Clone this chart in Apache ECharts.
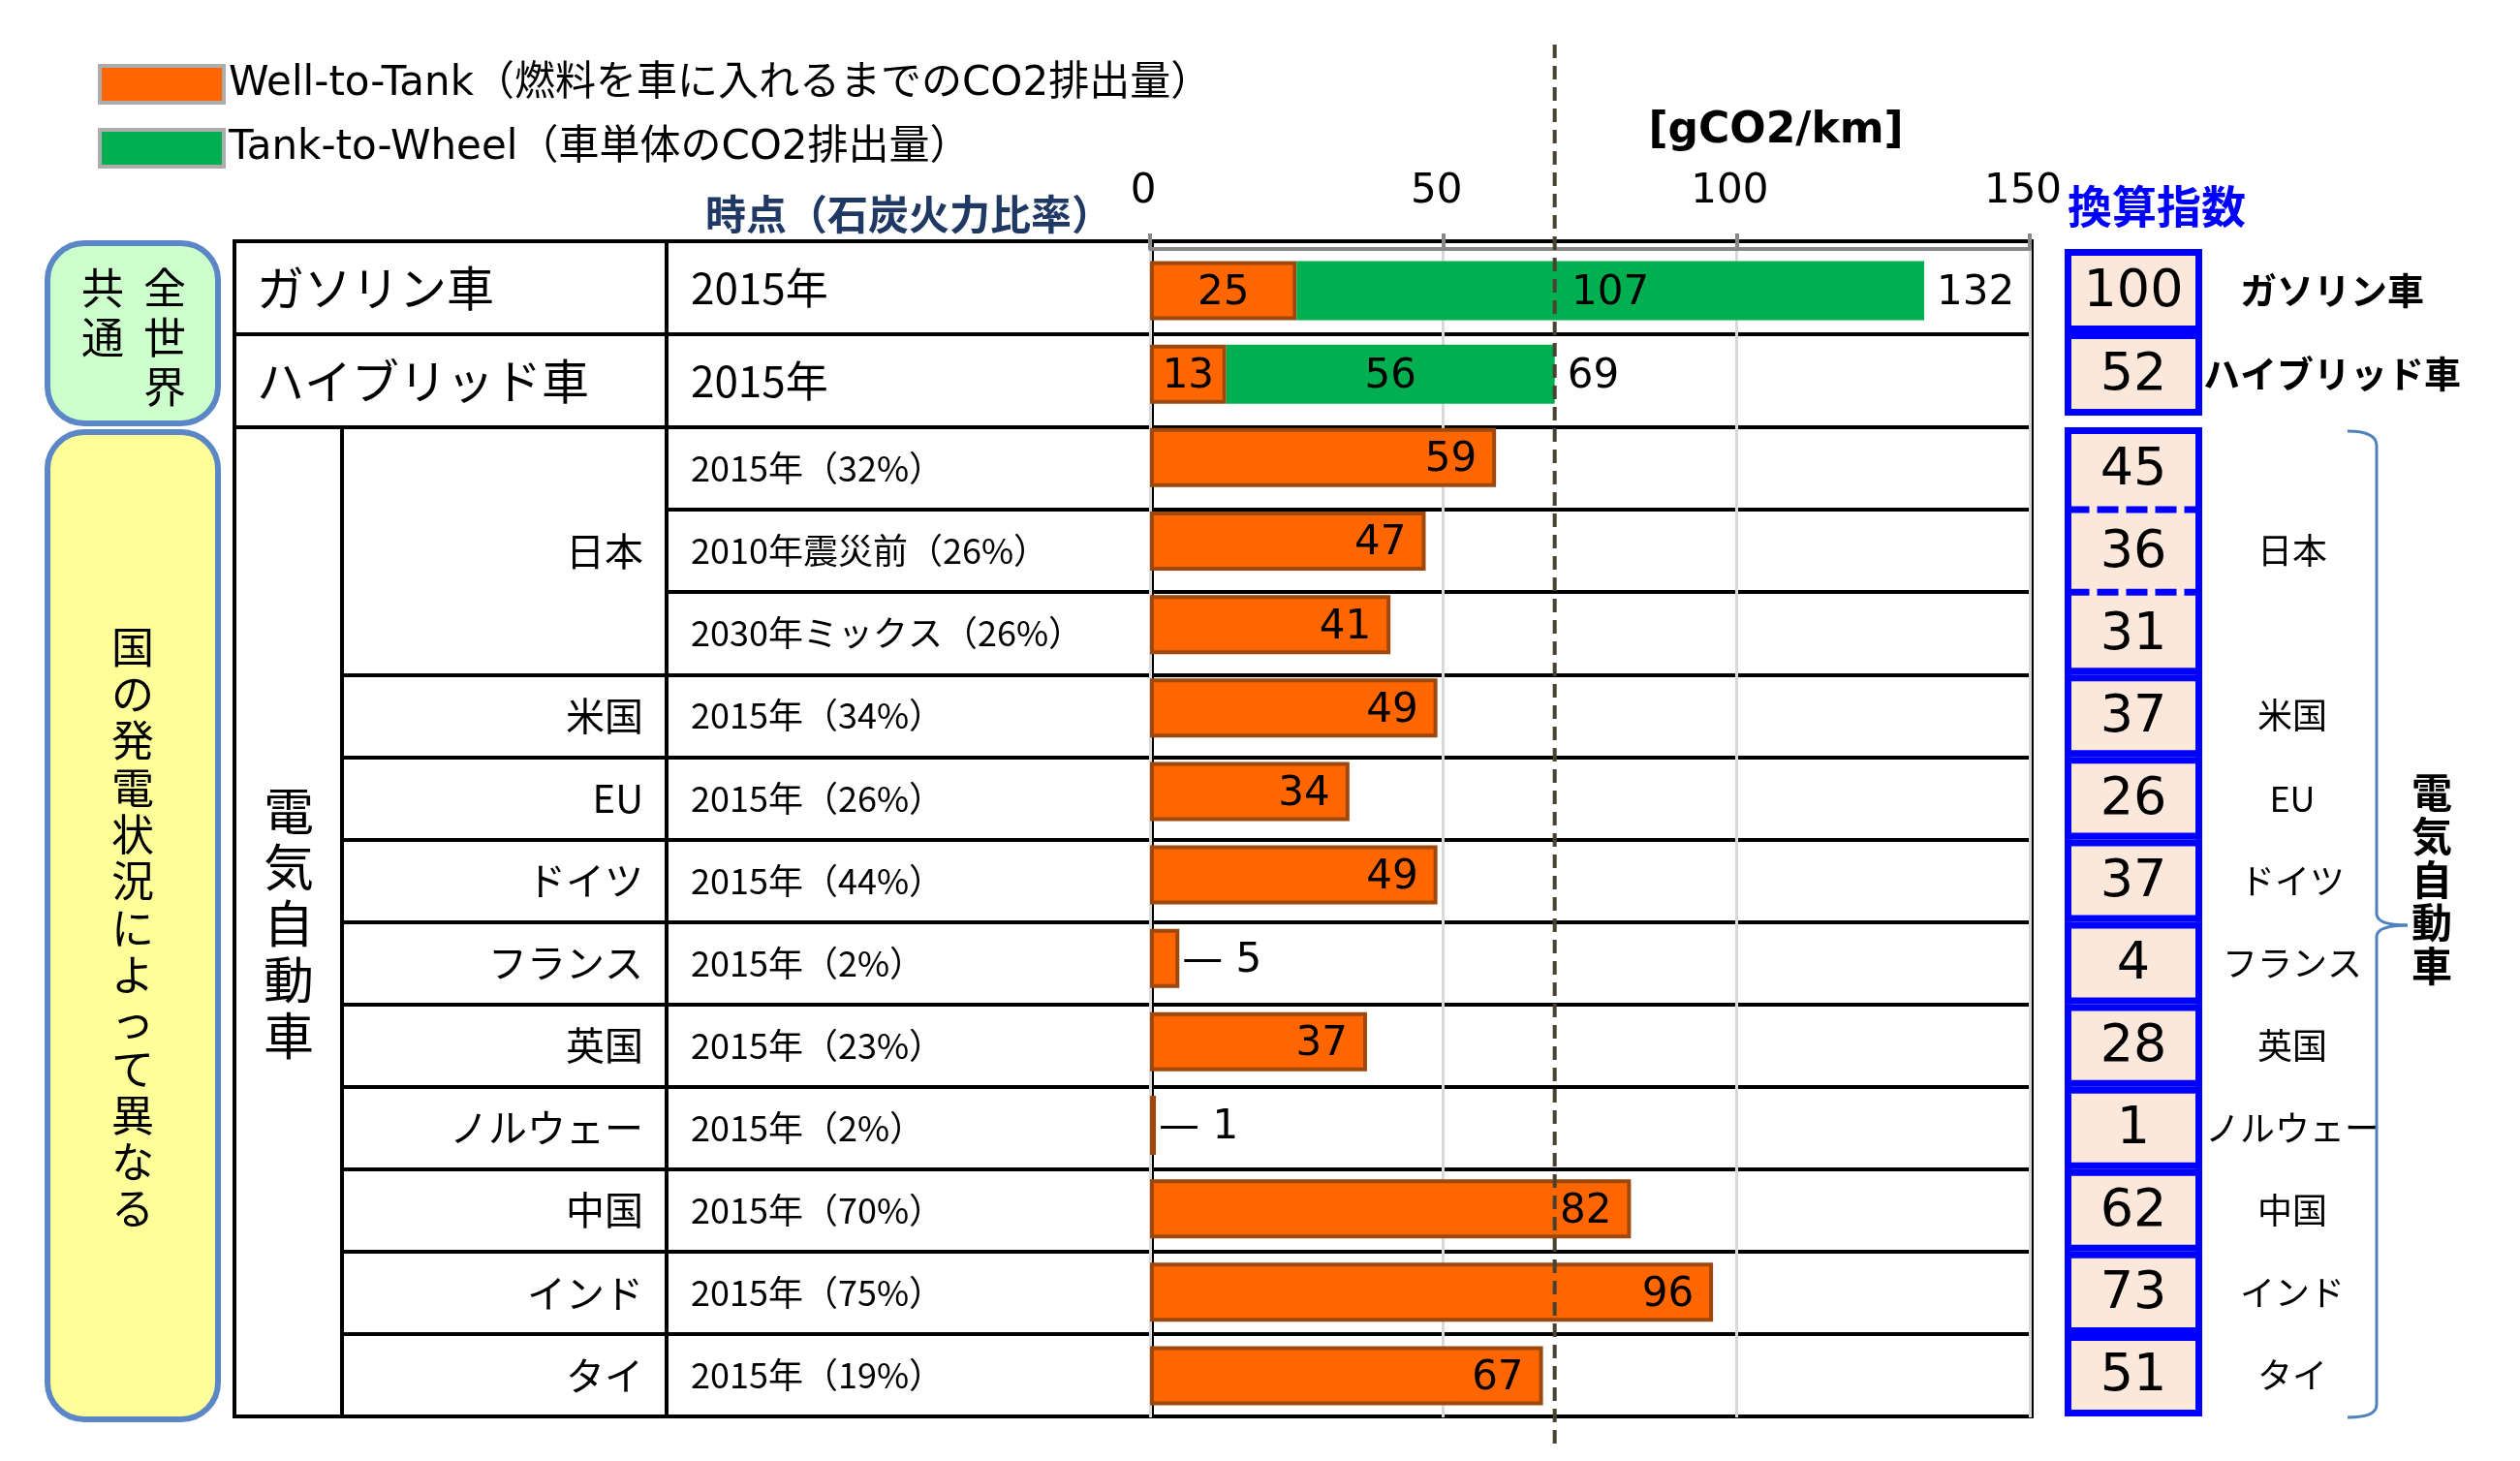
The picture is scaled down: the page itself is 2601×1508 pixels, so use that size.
<!DOCTYPE html>
<html><head><meta charset="utf-8">
<script src="https://cdn.jsdelivr.net/npm/echarts@6/dist/echarts.min.js"></script>
<style>html,body{margin:0;padding:0;background:#fff}#c{width:2601px;height:1508px}</style>
</head><body><div id="c"></div>
<script>
// ---------------- data ----------------
const legendNames = ['Well-to-Tank（燃料を車に入れるまでのCO2排出量）', 'Tank-to-Wheel（車単体のCO2排出量）'];
const vehicleTypes = ['ガソリン車', 'ハイブリッド車'];
const vehicleYears = ['2015年', '2015年'];
const evCountryRows = ['日本', '日本', '日本', '米国', 'EU', 'ドイツ', 'フランス', '英国', 'ノルウェー', '中国', 'インド', 'タイ'];
const evYears = ['2015年（32%）', '2010年震災前（26%）', '2030年ミックス（26%）', '2015年（34%）', '2015年（26%）', '2015年（44%）',
                 '2015年（2%）', '2015年（23%）', '2015年（2%）', '2015年（70%）', '2015年（75%）', '2015年（19%）'];
const wellToTank = [25, 13, 59, 47, 41, 49, 34, 49, 5, 37, 1, 82, 96, 67];
const tankToWheel = [107, 56];
const indexTop = [100, 52];
const indexEV = [45, 36, 31, 37, 26, 37, 4, 28, 1, 62, 73, 51];
const xMin = 0, xMax = 150, xStep = 50;
const unitLabel = '[gCO2/km]';
const yearHeader = '時点（石炭火力比率）';
const indexHeader = '換算指数';
const worldCols = ['全世界', '共通'];
const countryNote = '国の発電状況によって異なる';
const evLabel = '電気自動車';

// ---------------- helpers ----------------
const FONT = "'DejaVu Sans', 'Noto Sans CJK JP', sans-serif";
const JFONT = "'Noto Sans CJK JP', sans-serif";
const topKeys = vehicleTypes.slice();
const evKeys = evCountryRows.map((c, i) => c + '｜' + evYears[i]);
const allKeys = topKeys.concat(evKeys);

function middleLabels(rows) {
  return rows.map((r, i) => {
    let s = i; while (s > 0 && rows[s - 1] === r) s--;
    let e = i; while (e < rows.length - 1 && rows[e + 1] === r) e++;
    return i === Math.floor((s + e) / 2) ? r : '';
  });
}
const evCountryLabels = middleLabels(evCountryRows);

const BORDER = {show: true, borderColor: '#000', borderWidth: 4, backgroundColor: 'rgba(0,0,0,0)'};
function g(left, top, width, height, extra) {
  return Object.assign({left, top, width, height, containLabel: false}, extra || {});
}
const grids = [
  g(242, 249, 446, 192, BORDER),   // 0 top: vehicle name
  g(688, 249, 501, 192, BORDER),   // 1 top: year
  g(1189, 249, 908, 192, BORDER),  // 2 top: chart rows
  g(242, 441, 111, 1021, BORDER),  // 3 EV: big column
  g(353, 441, 335, 1021, BORDER),  // 4 EV: country
  g(688, 441, 501, 1021, BORDER),  // 5 EV: year
  g(1189, 441, 908, 1021, BORDER), // 6 EV: chart rows
  g(1187, 257, 908, 1206),         // 7 bars
  g(1187, 46, 908, 1444),          // 8 dashed reference
  g(2131, 257, 142, 172),          // 9 index top
  g(2131, 441, 142, 1021)          // 10 index EV
];

function hiddenX(gi, min, max) { return {type: 'value', gridIndex: gi, min: min, max: max, show: false}; }
const xAxes = grids.map((_, i) => hiddenX(i, 0, 1));
xAxes[7] = {
  type: 'value', gridIndex: 7, position: 'top', min: xMin, max: xMax, interval: xStep,
  axisLine: {show: true, lineStyle: {color: '#888', width: 4}},
  axisTick: {show: true, length: 16, lineStyle: {color: '#888', width: 4}},
  axisLabel: {show: true, fontSize: 42, fontFamily: FONT, color: '#000', margin: 38, padding: [0, 14, 0, 0]},
  splitLine: {show: true, lineStyle: {color: '#D9D9D9', width: 3}}
};
xAxes[8] = hiddenX(8, xMin, xMax);

const blackSplit = {show: true, lineStyle: {color: '#000', width: 4}};
function catY(gi, data, extra) {
  return Object.assign({
    type: 'category', gridIndex: gi, inverse: true, data: data,
    axisLine: {show: false}, axisTick: {show: false},
    axisLabel: {show: false}, splitLine: {show: false}
  }, extra || {});
}
const yAxes = [
  catY(0, topKeys, {splitLine: blackSplit, axisLabel: {show: true, inside: true, interval: 0, margin: 23, fontSize: 49, fontFamily: JFONT, color: '#000',
    formatter: (v, i) => vehicleTypes[i]}}),
  catY(1, topKeys, {splitLine: blackSplit, axisLabel: {show: true, inside: true, interval: 0, margin: 25, fontSize: 44, fontFamily: JFONT, color: '#000',
    formatter: (v, i) => vehicleYears[i]}}),
  catY(2, topKeys, {splitLine: blackSplit}),
  catY(3, evKeys),
  catY(4, evKeys, {position: 'right',
    splitLine: {show: true, interval: (idx) => idx === 0 || evCountryRows[idx] !== evCountryRows[idx - 1], lineStyle: {color: '#000', width: 4}},
    axisLabel: {show: true, inside: true, interval: 0, margin: 24, fontSize: 40, fontFamily: JFONT, color: '#000',
      formatter: (v, i) => evCountryLabels[i]}}),
  catY(5, evKeys, {splitLine: blackSplit, axisLabel: {show: true, inside: true, interval: 0, margin: 25, fontSize: 36, fontFamily: JFONT, color: '#000',
    formatter: (v, i) => evYears[i]}}),
  catY(6, evKeys, {splitLine: blackSplit}),
  catY(7, allKeys),
  {type: 'value', gridIndex: 8, min: 0, max: 1, show: false},
  catY(9, topKeys, {position: 'right', axisLabel: {show: true, interval: 0, margin: 134, align: 'center', fontSize: 38, fontWeight: 'bold',
    fontFamily: JFONT, color: '#000', formatter: (v, i) => vehicleTypes[i]}}),
  catY(10, evKeys, {position: 'right', axisLabel: {show: true, interval: 0, margin: 93, align: 'center', fontSize: 36,
    fontFamily: JFONT, color: '#000', formatter: (v, i) => evCountryLabels[i]}})
];

// bar labels
function wttLabel(i, v) {
  if (i < tankToWheel.length) return {position: 'inside'};
  if (v < 10) return {position: 'right', distance: 3, formatter: '— {c}'};
  return {position: 'insideRight', distance: 20};
}
const wttData = wellToTank.map((v, i) => ({value: v, label: wttLabel(i, v)}));
const ttwData = allKeys.map((k, i) => (i < tankToWheel.length ? tankToWheel[i] : null));
const totals = tankToWheel.map((v, i) => [wellToTank[i] + v, i]);
const hybridTotal = wellToTank[1] + tankToWheel[1];

// index boxes
function groupFlags(rows) {
  return rows.map((r, i) => [i === 0 || rows[i - 1] !== r ? 1 : 0, i === rows.length - 1 || rows[i + 1] !== r ? 1 : 0]);
}
const evFlags = groupFlags(evCountryRows);
const idxTopData = indexTop.map((v, i) => [0, i, v, 1, 1]);
const idxEVData = indexEV.map((v, i) => [0, i, v, evFlags[i][0], evFlags[i][1]]);

function renderIndexBox(params, api) {
  const row = api.value(1), first = api.value(3), last = api.value(4);
  const c = api.coord([0, row]);
  const band = api.size([0, 1])[1];
  const cs = params.coordSys;
  const inset = 3.5, blue = '#0000FF';
  const l = cs.x + inset, r = cs.x + cs.width - inset;
  const t = c[1] - band / 2 + (first ? inset : 0);
  const b = c[1] + band / 2 - (last ? inset : 0);
  const solid = {stroke: blue, lineWidth: 7, lineCap: 'square'};
  const children = [
    {type: 'rect', shape: {x: l, y: t, width: r - l, height: b - t}, style: {fill: '#FBE8DA'}},
    {type: 'line', shape: {x1: l, y1: t, x2: l, y2: b}, style: solid},
    {type: 'line', shape: {x1: r, y1: t, x2: r, y2: b}, style: solid},
    {type: 'line', shape: {x1: l, y1: t, x2: r, y2: t}, style: first ? solid : {stroke: blue, lineWidth: 7, lineDash: [22, 8]}}
  ];
  if (last) children.push({type: 'line', shape: {x1: l, y1: b, x2: r, y2: b}, style: solid});
  children.push({type: 'text', style: {text: String(api.value(2)), x: (l + r) / 2, y: c[1] + 2, align: 'center', verticalAlign: 'middle',
    font: "54px 'DejaVu Sans'", fill: '#000'}});
  return {type: 'group', children: children};
}

function vtext(str, x, yTop, size, lh, weight) {
  return {type: 'text', z: 10, style: {text: str.split('').join('\n'), x: x, y: yTop, align: 'center', textAlign: 'center',
    verticalAlign: 'top', textVerticalAlign: 'top', lineHeight: lh,
    font: (weight || 'normal') + ' ' + size + "px 'Noto Sans CJK JP'", fill: '#000'}};
}
const braceStyle = {stroke: '#4F81BD', lineWidth: 3, fill: null};
function bez(x1, y1, cx, cy, x2, y2) {
  return {type: 'bezierCurve', z: 10, shape: {x1: x1, y1: y1, cpx1: cx, cpy1: cy, x2: x2, y2: y2}, style: braceStyle};
}
function seg(x1, y1, x2, y2) {
  return {type: 'line', z: 10, shape: {x1: x1, y1: y1, x2: x2, y2: y2}, style: braceStyle};
}

const option = {
  animation: false,
  backgroundColor: '#fff',
  textStyle: {fontFamily: FONT},
  legend: {
    left: 101, top: 66, orient: 'vertical', padding: 0, itemWidth: 128, itemHeight: 38, itemGap: 24,
    icon: 'rect', selectedMode: false, data: legendNames,
    itemStyle: {borderColor: '#ADADAD', borderWidth: 4},
    textStyle: {fontSize: 42, fontFamily: FONT, color: '#000', lineHeight: 38}
  },
  grid: grids,
  xAxis: xAxes,
  yAxis: yAxes,
  series: [
    {type: 'bar', name: legendNames[0], xAxisIndex: 7, yAxisIndex: 7, stack: 'total', barWidth: 61,
     itemStyle: {color: '#FF6600', borderColor: '#9E480E', borderWidth: 4},
     label: {show: true, fontSize: 42, fontFamily: FONT, color: '#000', offset: [0, 3]}, data: wttData, z: 3},
    {type: 'bar', name: legendNames[1], xAxisIndex: 7, yAxisIndex: 7, stack: 'total', barWidth: 61,
     itemStyle: {color: '#00B050'},
     label: {show: true, position: 'inside', fontSize: 42, fontFamily: FONT, color: '#000', offset: [0, 3]}, data: ttwData, z: 3},
    {type: 'scatter', xAxisIndex: 7, yAxisIndex: 7, symbolSize: 2, itemStyle: {color: 'rgba(0,0,0,0)', opacity: 1}, silent: true,
     label: {show: true, position: 'right', distance: 12, fontSize: 42, fontFamily: FONT, color: '#000', opacity: 1, offset: [0, 3],
       formatter: p => String(p.value[0])},
     data: totals, z: 4},
    {type: 'line', xAxisIndex: 8, yAxisIndex: 8, symbol: 'none', silent: true, z: 6,
     lineStyle: {color: '#4A4230', width: 4, type: [14, 8]}, data: [[hybridTotal, 0], [hybridTotal, 1]]},
    {type: 'custom', xAxisIndex: 9, yAxisIndex: 9, encode: {x: 0, y: 1}, renderItem: renderIndexBox, data: idxTopData, clip: false, silent: true},
    {type: 'custom', xAxisIndex: 10, yAxisIndex: 10, encode: {x: 0, y: 1}, renderItem: renderIndexBox, data: idxEVData, clip: false, silent: true}
  ],
  graphic: [
    {type: 'rect', shape: {x: 49, y: 251, width: 176, height: 186, r: 38}, style: {fill: '#CCFFCC', stroke: '#5B87C6', lineWidth: 6}},
    {type: 'rect', shape: {x: 49, y: 446, width: 176, height: 1019, r: 38}, style: {fill: '#FFFF99', stroke: '#5B87C6', lineWidth: 6}},
    vtext(worldCols[0], 170, 272, 44, 51),
    vtext(worldCols[1], 106, 272, 44, 51),
    vtext(countryNote, 137, 644, 44, 48.3),
    vtext(evLabel, 298, 808, 52, 58),
    vtext(evLabel, 2510, 796, 42, 44.7, 'bold'),
    {type: 'text', z: 10, style: {text: yearHeader, x: 1148, y: 221, align: 'right', textAlign: 'right', verticalAlign: 'middle', textVerticalAlign: 'middle',
      font: "bold 42px 'Noto Sans CJK JP'", fill: '#1F3864'}},
    {type: 'text', z: 10, style: {text: unitLabel, x: 1833, y: 136, align: 'center', textAlign: 'center', verticalAlign: 'middle', textVerticalAlign: 'middle',
      font: "bold 44px 'DejaVu Sans'", fill: '#000'}},
    {type: 'text', z: 10, style: {text: indexHeader, x: 2134, y: 213, align: 'left', textAlign: 'left', verticalAlign: 'middle', textVerticalAlign: 'middle',
      font: "bold 46px 'Noto Sans CJK JP'", fill: '#0000FF'}},
    bez(2423, 445, 2453, 445, 2453, 460),
    seg(2453, 460, 2453, 943),
    bez(2453, 943, 2453, 955, 2485, 955),
    bez(2485, 955, 2453, 955, 2453, 967),
    seg(2453, 967, 2453, 1450),
    bez(2453, 1450, 2453, 1463, 2423, 1463)
  ]
};

const chart = echarts.init(document.getElementById('c'), null, {renderer: 'canvas', width: 2601, height: 1508});
chart.setOption(option);
</script>
</body></html>
